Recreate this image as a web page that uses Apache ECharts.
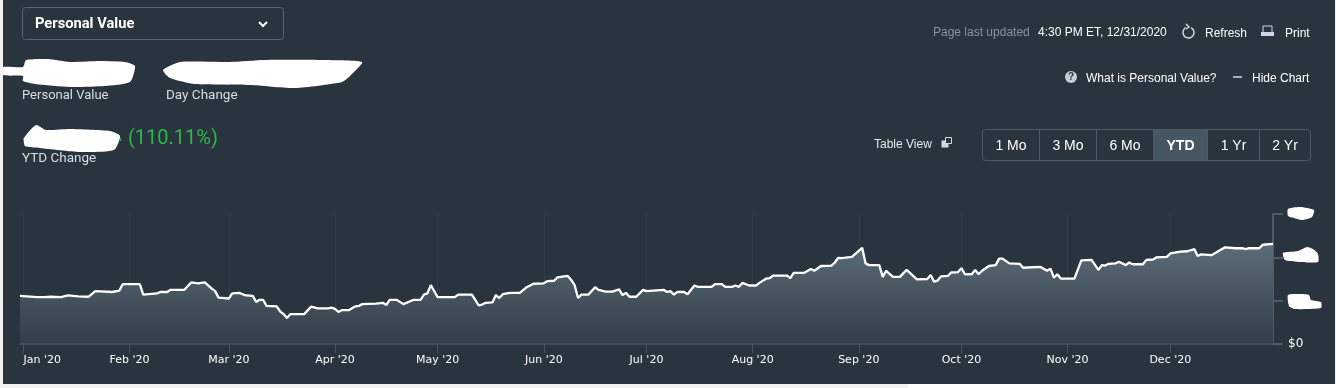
<!DOCTYPE html>
<html>
<head>
<meta charset="utf-8">
<style>
html, body { margin: 0; padding: 0; background: #f4f4f4; }
#chart { width: 1336px; height: 388px; }
</style>
<script src="https://cdn.jsdelivr.net/npm/echarts@6/dist/echarts.min.js"></script>
</head>
<body>
<div id="chart"></div>
<script>
// the dollar labels are scribbled out in the picture, so values are in units where a gridstep is 100
// days counted from Dec 31 2019 (day 0)
const days = [0, 2, 5, 7, 9, 12, 14, 17, 20, 22, 27, 29, 30, 35, 36, 40, 41, 43, 44, 48, 50, 52, 54, 56, 57, 58, 61, 62, 64, 66, 68, 69, 70, 71, 72, 75, 76, 77, 78, 79, 83, 85, 87, 90, 91, 92, 93, 94, 96, 98, 99, 100, 104, 106, 107, 108, 110, 112, 115, 117, 118, 119, 120, 122, 127, 128, 132, 134, 135, 136, 138, 139, 140, 141, 143, 146, 148, 149, 150, 153, 154, 156, 157, 160, 161, 162, 163, 164, 166, 168, 169, 171, 173, 175, 176, 177, 178, 180, 182, 183, 188, 189, 190, 191, 192, 194, 195, 197, 198, 202, 203, 205, 206, 208, 209, 210, 211, 213, 215, 216, 218, 219, 220, 224, 225, 226, 229, 231, 232, 234, 237, 238, 239, 240, 243, 245, 246, 247, 248, 251, 252, 253, 255, 257, 259, 262, 265, 266, 267, 268, 269, 271, 272, 274, 275, 276, 278, 279, 280, 281, 283, 285, 286, 287, 289, 292, 293, 298, 300, 301, 302, 303, 304, 308, 310, 313, 315, 316, 317, 318, 320, 321, 323, 324, 325, 328, 329, 331, 332, 335, 336, 339, 341, 343, 344, 345, 348, 350, 352, 355, 357, 358, 359, 362, 363, 366];
const values = [111, 110, 108, 108, 109, 108, 112, 110, 109, 122, 120, 123, 138, 138, 114, 117, 120, 120, 125, 125, 142, 140, 142, 128, 122, 107, 105, 117, 118, 112, 111, 97, 102, 102, 88, 87, 75, 69, 60, 69, 69, 86, 82, 82, 84, 81, 74, 78, 78, 87, 88, 92, 93, 95, 90, 102, 102, 92, 102, 102, 114, 117, 136, 108, 108, 114, 114, 89, 91, 95, 96, 113, 106, 115, 118, 118, 131, 135, 139, 140, 145, 146, 154, 157, 148, 136, 106, 114, 114, 131, 125, 121, 121, 126, 113, 118, 109, 109, 125, 122, 125, 120, 122, 114, 120, 120, 115, 135, 132, 132, 138, 138, 132, 132, 135, 132, 141, 135, 135, 141, 151, 152, 158, 158, 152, 164, 164, 173, 169, 180, 181, 188, 199, 198, 201, 215, 222, 186, 182, 182, 155, 169, 155, 155, 171, 149, 150, 159, 144, 146, 156, 157, 165, 166, 175, 161, 161, 171, 161, 169, 180, 182, 197, 197, 186, 185, 176, 178, 169, 174, 153, 161, 151, 151, 193, 194, 171, 182, 181, 185, 186, 190, 182, 188, 184, 184, 194, 195, 200, 201, 209, 213, 214, 219, 203, 207, 205, 214, 223, 221, 221, 219, 221, 221, 229, 231];

const monthLabels = ["Jan '20", "Feb '20", "Mar '20", "Apr '20", "May '20", "Jun '20", "Jul '20", "Aug '20", "Sep '20", "Oct '20", "Nov '20", "Dec '20"];
const monthDays = [1, 32, 61, 92, 122, 153, 183, 214, 245, 275, 306, 336];
const rangeLabels = ['1 Mo', '3 Mo', '6 Mo', 'YTD', '1 Yr', '2 Yr'];
const rangeEdges = [982.5, 1039.5, 1096.5, 1153.5, 1207.5, 1259.5, 1310.5];
const activeRange = 'YTD';

const PANEL = '#29343f';
const GREEN = '#2eb84a';
const TEXT_FONT = 'Roboto, sans-serif';
const TOP_FONT = '"Liberation Sans", sans-serif';

const chart = echarts.init(document.getElementById('chart'), null, { renderer: 'canvas' });

function label(text, x, y, fontSize, color, font, weight, align) {
    return {
        type: 'text', z: 5, x: x, y: y,
        style: {
            text: text, fill: color, fontSize: fontSize, fontFamily: font || TEXT_FONT,
            fontWeight: weight || 'normal', align: align || 'left', verticalAlign: 'middle'
        }
    };
}

function box(x, y, w, h, fill, stroke, r) {
    return {
        type: 'rect', z: 4, shape: { x: x, y: y, width: w, height: h, r: r || 0 },
        style: { fill: fill || 'transparent', stroke: stroke || null, lineWidth: 1 }
    };
}

function segment(points, color, width) {
    return {
        type: 'polyline', z: 5, shape: { points: points },
        style: { stroke: color, lineWidth: width || 1, fill: null }
    };
}

// white scribbles that hide the dollar amounts
function scribble(points) {
    return {
        type: 'polygon', z: 20, shape: { points: points, smooth: 0.2 },
        style: { fill: '#ffffff' }
    };
}

const buttons = [];
rangeLabels.forEach(function (name, i) {
    const a = rangeEdges[i], b = rangeEdges[i + 1];
    if (name === activeRange) buttons.push(box(a, 130, b - a, 30, '#475663'));
    buttons.push(label(name, (a + b) / 2, 146, 14, '#ffffff', TOP_FONT, name === activeRange ? 'bold' : 'normal', 'center'));
    if (i > 0) buttons.push(segment([[a, 130], [a, 160]], '#4d5a66'));
});

const graphicElements = [
    // page around the panel
    { type: 'rect', z: -10, shape: { x: 0, y: 0, width: 1336, height: 388 }, style: { fill: '#f2f2f2' } },
    { type: 'rect', z: -9, shape: { x: 908, y: 384, width: 428, height: 4 }, style: { fill: '#ffffff' } },
    { type: 'rect', z: -8, shape: { x: 3, y: 0, width: 1332, height: 384 }, style: { fill: PANEL } },

    // dropdown
    box(22.5, 7.5, 261, 32, null, '#5a6772', 3),
    label('Personal Value', 35, 24, 14.7, '#ffffff', TEXT_FONT, 'bold'),
    segment([[259, 22], [263, 26], [267, 22]], '#ffffff', 2),

    // summary figures
    label('Personal Value', 22, 95.5, 13, '#d8dde1'),
    label('Day Change', 166, 95.5, 13.5, '#d8dde1'),
    label('(110.11%)', 128, 138.5, 20, GREEN),
    segment([[118, 134], [121, 141]], GREEN, 1.5),
    segment([[23, 139], [28, 139]], GREEN, 1.5),
    label('YTD Change', 22, 158.5, 13.5, '#d8dde1'),

    // top right links
    label('Page last updated', 933, 32.5, 12, '#8a929a', TOP_FONT),
    label('4:30 PM ET, 12/31/2020', 1038, 32.5, 12, '#ffffff', TOP_FONT),
    { type: 'arc', z: 5, shape: { cx: 1188.5, cy: 32.5, r: 5.5, startAngle: -1.1, endAngle: 4.2 }, style: { stroke: '#d5dade', fill: null, lineWidth: 1.5 } },
    segment([[1186, 24], [1189, 27], [1186, 29]], '#d5dade', 1.5),
    label('Refresh', 1205, 33.5, 12, '#ffffff', TOP_FONT),
    box(1263, 26, 9, 7, null, '#d5d3ea', 0),
    box(1261, 32, 13, 4, '#d5d3ea'),
    label('Print', 1285, 33.5, 12, '#ffffff', TOP_FONT),

    { type: 'circle', z: 5, shape: { cx: 1071, cy: 77, r: 6 }, style: { fill: '#c8cdd2' } },
    label('?', 1071, 77.5, 10, PANEL, TOP_FONT, 'bold', 'center'),
    label('What is Personal Value?', 1086, 78.5, 12, '#ffffff', TOP_FONT),
    segment([[1233, 77], [1242, 77]], '#d5dade', 1.5),
    label('Hide Chart', 1252, 78.5, 12, '#ffffff', TOP_FONT),

    // range selector
    label('Table View', 874, 144.5, 12, '#e6e9ec', TOP_FONT),
    box(941.5, 140.5, 7, 7, '#d5dade'),
    box(945.5, 137.5, 6, 6, PANEL, '#d5dade'),
    box(982.5, 129.5, 328, 31, null, '#4d5a66', 3)
].concat(buttons, [
    // scribbles
    scribble([[3, 67], [23, 67], [26, 60], [48, 59], [70, 62], [100, 61], [125, 62], [135, 66], [130, 82], [105, 86], [70, 87], [35, 84], [23, 81], [23, 76], [3, 75]]),
    scribble([[163, 70], [180, 62], [230, 62], [265, 60], [320, 60], [362, 62], [352, 74], [342, 82], [295, 88], [250, 85], [195, 84], [170, 78]]),
    scribble([[24, 138], [36, 125], [46, 130], [70, 129], [110, 131], [120, 136], [114, 150], [80, 152], [40, 148], [25, 146]]),
    scribble([[1288, 209], [1300, 207], [1314, 210], [1312, 217], [1302, 220], [1294, 218], [1288, 216]]),
    scribble([[1283, 253], [1298, 251], [1307, 247], [1313, 249], [1318, 254], [1318, 262], [1300, 262], [1285, 260]]),
    scribble([[1288, 295], [1300, 294], [1309, 295], [1311, 300], [1321, 302], [1321, 308], [1295, 309], [1289, 306]])
]);

chart.setOption({
    animation: false,
    grid: { left: 20, right: 63, top: 214, bottom: 44 },
    xAxis: {
        type: 'value',
        min: 0,
        max: 366,
        z: 3,
        axisLine: { show: true, lineStyle: { color: '#47535f', width: 1.5 } },
        axisTick: { show: true, length: 9, lineStyle: { color: '#47535f' }, customValues: monthDays },
        axisLabel: {
            show: true, color: '#ffffff', fontSize: 11, fontFamily: '"DejaVu Sans", sans-serif', margin: 11,
            alignMinLabel: 'left', hideOverlap: false,
            customValues: monthDays,
            formatter: function (v) { return monthLabels[monthDays.indexOf(v)]; }
        },
        splitLine: { show: true, lineStyle: { color: '#313c47', width: 1 } }
    },
    yAxis: {
        type: 'value',
        position: 'right',
        min: 0,
        max: 300,
        interval: 100,
        axisLine: { show: true, onZero: false, lineStyle: { color: '#4f5b66', width: 2 } },
        axisTick: { show: true, length: 10, lineStyle: { color: '#4f5b66', width: 2 } },
        axisLabel: {
            color: '#ffffff', fontSize: 12, fontFamily: '"DejaVu Sans", sans-serif', margin: 15,
            formatter: function (v) { return v === 0 ? '$0' : ''; }
        },
        splitLine: { show: false }
    },
    series: [{
        type: 'line',
        data: days.map(function (d, i) { return [d, values[i]]; }),
        showSymbol: false,
        smooth: false,
        lineStyle: { color: '#ffffff', width: 2.3 },
        areaStyle: {
            opacity: 1,
            color: new echarts.graphic.LinearGradient(0, 0, 0, 1, [
                { offset: 0, color: '#5b6c78' },
                { offset: 1, color: '#323d48' }
            ])
        }
    }],
    graphic: { elements: graphicElements }
});
</script>
</body>
</html>
